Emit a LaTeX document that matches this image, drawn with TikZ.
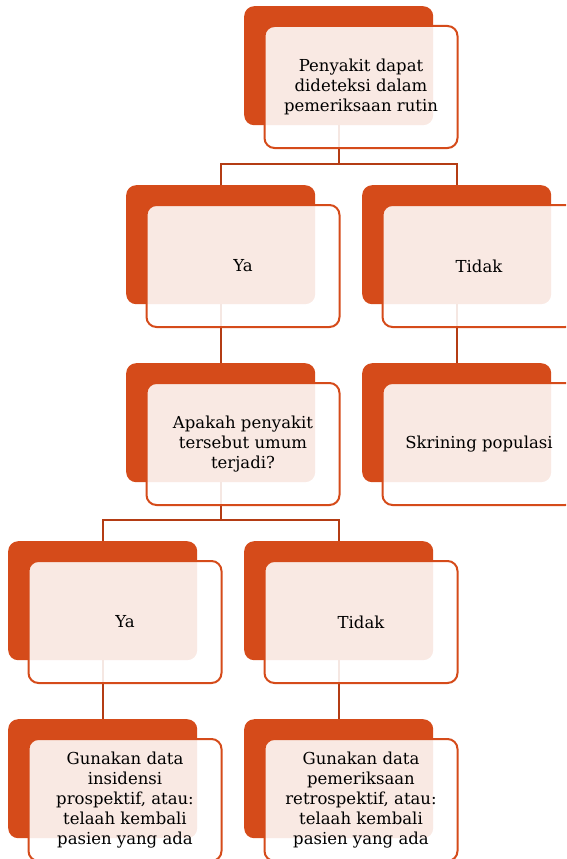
\documentclass[tikz,border=0pt]{standalone}
\usepackage{fontspec}
\setmainfont{DejaVu Serif}
\definecolor{accent}{HTML}{D54B1A}
\definecolor{connc}{HTML}{B43C14}
\begin{document}
\begin{tikzpicture}[x=1pt,y=-1pt,
  backbox/.style={draw=none,fill=accent,rounded corners=10pt,minimum width=189pt,minimum height=119pt,anchor=north west,inner sep=0pt},
  frontbox/.style={draw=accent,line width=2pt,fill=white,fill opacity=0.88,text opacity=1,rounded corners=10pt,minimum width=193pt,minimum height=122pt,anchor=north west,align=center,inner sep=2pt,font=\fontsize{16.5}{19.8}\selectfont},
  conn/.style={draw=connc,line width=2pt}]
\useasboundingbox (0,0) rectangle (566,859);
\clip (0,0) rectangle (566,859);
% back boxes
\node[backbox] (b0) at (244,6) {};
\node[backbox] (b1) at (126,185) {};
\node[backbox] (b2) at (362,185) {};
\node[backbox] (b3) at (126,363) {};
\node[backbox] (b4) at (362,363) {};
\node[backbox] (b5) at (8,541) {};
\node[backbox] (b6) at (244,541) {};
\node[backbox] (b7) at (8,719) {};
\node[backbox] (b8) at (244,719) {};
% connectors
\coordinate (bus1) at (0,164);
\coordinate (bus2) at (0,520);
\draw[conn] (b0.south) -- (b0.south |- bus1);
\draw[conn] (b1.north) |- (b2.north |- bus1) -- (b2.north);
\draw[conn] (b1.south) -- (b3.north);
\draw[conn] (b2.south) -- (b4.north);
\draw[conn] (b3.south) -- (b3.south |- bus2);
\draw[conn] (b5.north) |- (b6.north |- bus2) -- (b6.north);
\draw[conn] (b5.south) -- (b7.north);
\draw[conn] (b6.south) -- (b8.north);
% front boxes
\node[frontbox] (f0) at (263.5,25) {Penyakit dapat\\dideteksi dalam\\pemeriksaan rutin};
\node[frontbox] (f1) at (145.5,204) {Ya};
\node[frontbox] (f2) at (381.5,204) {Tidak};
\node[frontbox] (f3) at (145.5,382) {Apakah penyakit\\tersebut umum\\terjadi?};
\node[frontbox] (f4) at (381.5,382) {Skrining populasi};
\node[frontbox] (f5) at (27.5,560) {Ya};
\node[frontbox] (f6) at (263.5,560) {Tidak};
\node[frontbox] (f7) at (27.5,738) {Gunakan data\\insidensi\\prospektif, atau:\\telaah kembali\\pasien yang ada};
\node[frontbox] (f8) at (263.5,738) {Gunakan data\\pemeriksaan\\retrospektif, atau:\\telaah kembali\\pasien yang ada};
\end{tikzpicture}
\end{document}
